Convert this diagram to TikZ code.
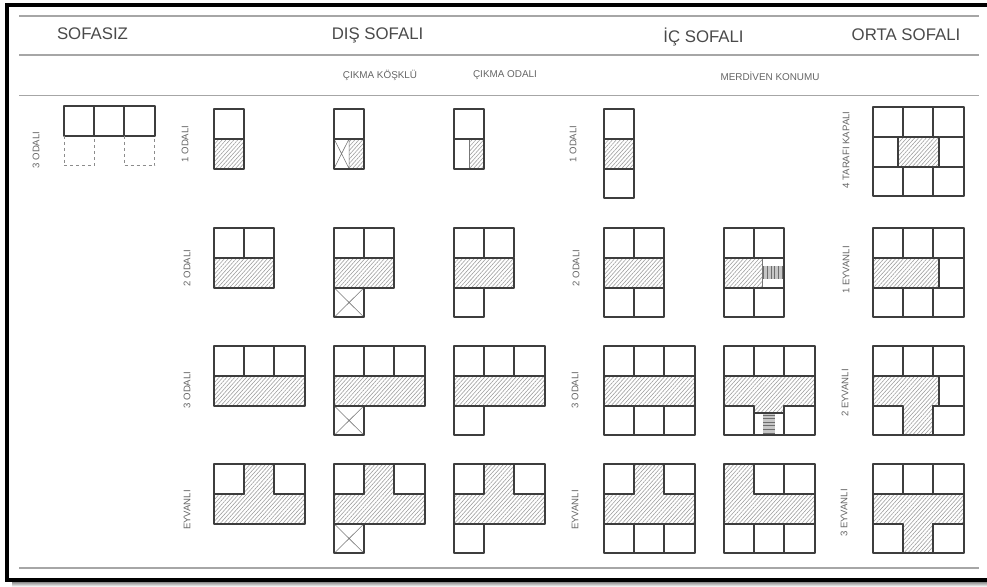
\documentclass[tikz,border=0pt]{standalone}
\usepackage{fontspec}
\setmainfont{Liberation Sans}
\usepackage{tikz}
\usetikzlibrary{patterns.meta}
\usepackage{xcolor}
\definecolor{wallgray}{HTML}{3D3D3D}
\definecolor{inkgray}{HTML}{4A4A4A}
% a row of #3 rooms starting at cell (#1,#2)
\newcommand{\roomrow}[3]{\foreach \i in {1,...,#3} \draw[wall] ({#1+\i-1},#2) rectangle +(1,1);}
\begin{document}
\begin{tikzpicture}[
    x=1pt, y=-1pt,
    wall/.style={draw=wallgray, line width=2pt, line join=round},
    thinwall/.style={draw=wallgray!70, line width=.6pt},
    ghost/.style={draw=gray!90, line width=.6pt, dashed},
    sofa/.style={pattern={Lines[angle=48,distance=2.9pt,line width=.6pt]}, pattern color=gray!75},
    plan/.style={x=30.2pt, y=-29.8pt},
    rule/.style={draw=gray!70, line width=1.2pt},
    head/.style={font=\fontsize{16.8}{19}\selectfont, text=inkgray, inner sep=0pt},
    subhead/.style={font=\fontsize{9.9}{11}\selectfont, text=inkgray!85, inner sep=0pt},
    side/.style={font=\fontsize{9.6}{11}\selectfont, text=inkgray!85, inner sep=0pt, rotate=90}
]
    \useasboundingbox (0,0) rectangle (987,586);
    % frame
    \fill[top color=gray!90, bottom color=gray!10] (12,582) rectangle (987,586);
    \draw[black, line width=4pt] (987,5) -- (7,5) -- (7,580) -- (987,580);
    \draw[rule] (19,16) -- (979,16);
    \draw[rule] (19,55) -- (979,55);
    \draw[rule, line width=.8pt] (19,95) -- (979,95);
    \draw[rule] (19,568) -- (979,568);

    % headers
    \node[head] (hsofasiz) at (92.5,34) {SOFASIZ};
    \node[head] (hdis) at (377.5,35) {DIŞ SOFALI};
    \node[head] (hic) at (703.5,37) {İÇ SOFALI};
    \node[head] (horta) at (906,35) {ORTA SOFALI};
    \node[subhead] (skosk) at (380,75) {ÇIKMA KÖŞKLÜ};
    \node[subhead] (soda) at (505,75) {ÇIKMA ODALI};
    \node[subhead] (smerd) at (770,76) {MERDİVEN KONUMU};

    % side labels
    \node[side] (l3) at (36,150) {3 ODALI};
    \node[side] (a1) at (185,144) {1 ODALI};
    \node[side] (a2) at (187,268) {2 ODALI};
    \node[side] (a3) at (187,390) {3 ODALI};
    \node[side] (a4) at (187,510) {EYVANLI};
    \node[side] (b1) at (573,144) {1 ODALI};
    \node[side] (b2) at (576,268) {2 ODALI};
    \node[side] (b3) at (575,390) {3 ODALI};
    \node[side] (b4) at (575,510) {EYVANLI};
    \node[side] (c1) at (846,150) {4 TARAFI KAPALI};
    \node[side] (c2) at (846,270) {1 EYVANLI};
    \node[side] (c3) at (845,393) {2 EYVANLI};
    \node[side] (c4) at (844,513) {3 EYVANLI};

    % sofasiz
    \begin{scope}[shift={(64,106)}, plan]
        \roomrow{0}{0}{3}
        \draw[ghost] (0,1) -- (0,2) -- (1,2) -- (1,1);
        \draw[ghost] (2,1) -- (2,2) -- (3,2) -- (3,1);
    \end{scope}

    % dis sofali, first row
    \begin{scope}[shift={(214,109)}, plan]
        \roomrow{0}{0}{1}
        \draw[wall, sofa] (0,1) rectangle (1,2);
    \end{scope}
    \begin{scope}[shift={(334,109)}, plan]
        \roomrow{0}{0}{1}
        \fill[sofa] (.5,1) rectangle (1,2);
        \draw[thinwall] (0,1) -- (.5,2) (.5,1) -- (0,2) (.5,1) -- (.5,2);
        \draw[wall] (0,1) rectangle (1,2);
    \end{scope}
    \begin{scope}[shift={(454,109)}, plan]
        \roomrow{0}{0}{1}
        \fill[sofa] (.5,1) rectangle (1,2);
        \draw[thinwall] (.5,1) -- (.5,2);
        \draw[wall] (0,1) rectangle (1,2);
    \end{scope}

    % dis sofali, rows with 2 and 3 rooms
    \foreach \rowy/\n in {228/2,346/3}{
        \begin{scope}[shift={(214,\rowy)}, plan]
            \roomrow{0}{0}{\n}
            \draw[wall, sofa] (0,1) rectangle (\n,2);
        \end{scope}
        \begin{scope}[shift={(334,\rowy)}, plan]
            \roomrow{0}{0}{\n}
            \draw[wall, sofa] (0,1) rectangle (\n,2);
            \draw[thinwall] (0,2) -- (1,3) (1,2) -- (0,3);
            \roomrow{0}{2}{1}
        \end{scope}
        \begin{scope}[shift={(454,\rowy)}, plan]
            \roomrow{0}{0}{\n}
            \draw[wall, sofa] (0,1) rectangle (\n,2);
            \roomrow{0}{2}{1}
        \end{scope}
    }

    % dis sofali, eyvanli
    \foreach \colx in {214,334,454}{
        \begin{scope}[shift={(\colx,464)}, plan]
            \roomrow{0}{0}{1}
            \roomrow{2}{0}{1}
            \draw[wall, sofa] (1,0) -- (2,0) -- (2,1) -- (3,1) -- (3,2) -- (0,2) -- (0,1) -- (1,1) -- cycle;
        \end{scope}
    }
    \begin{scope}[shift={(334,464)}, plan]
        \draw[thinwall] (0,2) -- (1,3) (1,2) -- (0,3);
        \roomrow{0}{2}{1}
    \end{scope}
    \begin{scope}[shift={(454,464)}, plan]
        \roomrow{0}{2}{1}
    \end{scope}

    % ic sofali
    \begin{scope}[shift={(604,109)}, plan]
        \roomrow{0}{0}{1}
        \draw[wall, sofa] (0,1) rectangle (1,2);
        \roomrow{0}{2}{1}
    \end{scope}
    \begin{scope}[shift={(604,228)}, plan]
        \roomrow{0}{0}{2}
        \draw[wall, sofa] (0,1) rectangle (2,2);
        \roomrow{0}{2}{2}
    \end{scope}
    \begin{scope}[shift={(604,346)}, plan]
        \roomrow{0}{0}{3}
        \draw[wall, sofa] (0,1) rectangle (3,2);
        \roomrow{0}{2}{3}
    \end{scope}
    \begin{scope}[shift={(604,464)}, plan]
        \roomrow{0}{0}{1}
        \roomrow{2}{0}{1}
        \draw[wall, sofa] (1,0) -- (2,0) -- (2,1) -- (3,1) -- (3,2) -- (0,2) -- (0,1) -- (1,1) -- cycle;
        \roomrow{0}{2}{3}
    \end{scope}

    % merdiven konumu
    \begin{scope}[shift={(724,228)}, plan]
        \roomrow{0}{0}{2}
        \roomrow{0}{2}{2}
        \fill[sofa] (0,1) rectangle (1.26,2);
        \fill[gray!45] (1.26,1.27) rectangle (2,1.72);
        \foreach \s in {1.32,1.44,...,1.98} \draw[wallgray!75, line width=.9pt] (\s,1.27) -- (\s,1.72);
        \draw[thinwall] (1.26,1) -- (1.26,2);
        \draw[wall] (0,1) rectangle (2,2);
    \end{scope}
    \begin{scope}[shift={(724,346)}, plan]
        \roomrow{0}{0}{3}
        \roomrow{0}{2}{1}
        \roomrow{2}{2}{1}
        \draw[wall, sofa] (0,1) -- (3,1) -- (3,2) -- (2,2) -- (2,2.24) -- (1,2.24) -- (1,2) -- (0,2) -- cycle;
        \fill[gray!45] (1.3,2.26) rectangle (1.7,3);
        \foreach \s in {2.32,2.44,...,3} \draw[wallgray!75, line width=.9pt] (1.3,\s) -- (1.7,\s);
        \draw[wall] (1,2.24) rectangle (2,3);
    \end{scope}
    \begin{scope}[shift={(724,464)}, plan]
        \roomrow{1}{0}{2}
        \draw[wall, sofa] (0,0) -- (1,0) -- (1,1) -- (3,1) -- (3,2) -- (0,2) -- cycle;
        \roomrow{0}{2}{3}
    \end{scope}

    % orta sofali
    \begin{scope}[shift={(873,107)}, plan]
        \roomrow{0}{0}{3}
        \draw[wall] (0,1) rectangle (3,2);
        \draw[wall, sofa] (.83,1) rectangle (2.2,2);
        \roomrow{0}{2}{3}
    \end{scope}
    \begin{scope}[shift={(873,228)}, plan]
        \roomrow{0}{0}{3}
        \draw[wall] (0,1) rectangle (3,2);
        \draw[wall, sofa] (0,1) rectangle (2.2,2);
        \roomrow{0}{2}{3}
    \end{scope}
    \begin{scope}[shift={(873,346)}, plan]
        \roomrow{0}{0}{3}
        \draw[wall] (2.2,1) rectangle (3,2);
        \roomrow{0}{2}{1}
        \roomrow{2}{2}{1}
        \draw[wall, sofa] (0,1) -- (2.2,1) -- (2.2,2) -- (2,2) -- (2,3) -- (1,3) -- (1,2) -- (0,2) -- cycle;
    \end{scope}
    \begin{scope}[shift={(873,464)}, plan]
        \roomrow{0}{0}{3}
        \roomrow{0}{2}{1}
        \roomrow{2}{2}{1}
        \draw[wall, sofa] (0,1) -- (3,1) -- (3,2) -- (2,2) -- (2,3) -- (1,3) -- (1,2) -- (0,2) -- cycle;
    \end{scope}
\end{tikzpicture}
\end{document}
